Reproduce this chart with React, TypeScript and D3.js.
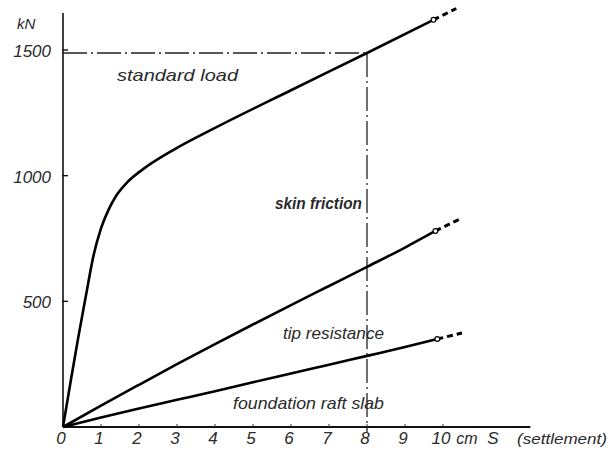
import React from "react";
import { scaleLinear, line, curveMonotoneX } from "d3";

// settlement in cm, load in kN
const standardS = [0, 0.2, 0.4, 0.6, 0.8, 1.0, 1.2, 1.4, 1.7, 2.1, 2.9, 4, 6, 8, 9.75];
const standardKN = [0, 180, 355, 520, 680, 790, 865, 920, 975, 1025, 1102, 1190, 1340, 1488, 1620];
const standardExtS = [9.75, 10.35];
const standardExtKN = [1620, 1665];

const middleS = [0, 1, 2, 3, 4, 5, 6, 7, 8, 9, 9.8];
const middleKN = [0, 85, 168, 250, 330, 408, 485, 561, 637, 714, 780];
const middleExtS = [9.8, 10.45];
const middleExtKN = [780, 828];

const lowerS = [0, 1, 2, 3, 4, 5, 6, 7, 8, 9, 9.85];
const lowerKN = [0, 38, 74, 108, 142, 178, 213, 248, 283, 318, 350];
const lowerExtS = [9.85, 10.5];
const lowerExtKN = [350, 374];

const xTicks = [0, 1, 2, 3, 4, 5, 6, 7, 8, 9, 10];
const yTicks = [500, 1000, 1500];
const standardLoad = 1488;
const standardSettlement = 8;

const font = "'Liberation Sans', Arial, sans-serif";

const App = () => {
  const x = scaleLinear().domain([0, 10]).range([63, 443]);
  const y = scaleLinear().domain([0, 1500]).range([427, 50]);

  const mk = (s: number[], v: number[]) =>
    line<number>()
      .x((d, i) => x(s[i]))
      .y((d) => y(d))
      .curve(curveMonotoneX)(v) || "";

  const curves = [
    { s: standardS, v: standardKN, es: standardExtS, ev: standardExtKN },
    { s: middleS, v: middleKN, es: middleExtS, ev: middleExtKN },
    { s: lowerS, v: lowerKN, es: lowerExtS, ev: lowerExtKN },
  ];

  const txt = { fontFamily: font, fontStyle: "italic", fill: "#2a2a2a" } as const;

  return (
    <svg width={608} height={455} style={{ position: "absolute", left: 0, top: 0, background: "#fff" }}>
      {/* axes */}
      <line x1={x(0)} y1={13} x2={x(0)} y2={y(0)} stroke="#111" strokeWidth={1.6} />
      <line x1={x(0)} y1={y(0)} x2={x(12.3)} y2={y(0)} stroke="#111" strokeWidth={1.8} />
      {yTicks.map((t) => (
        <line key={t} x1={x(0) - 1} x2={x(0) + 5} y1={y(t)} y2={y(t)} stroke="#111" strokeWidth={1.4} />
      ))}
      {xTicks.slice(1).map((t) => (
        <line key={t} x1={x(t)} x2={x(t)} y1={y(0)} y2={y(0) - 3} stroke="#333" strokeWidth={1} />
      ))}

      {/* standard load reference lines */}
      <line x1={x(0)} y1={y(standardLoad)} x2={x(standardSettlement)} y2={y(standardLoad)}
        stroke="#222" strokeWidth={1.3} strokeDasharray="24,4,2,4" />
      <line x1={x(standardSettlement)} y1={y(standardLoad)} x2={x(standardSettlement)} y2={y(0) + 5}
        stroke="#222" strokeWidth={1.3} strokeDasharray="24,4,2,4" />

      {/* curves */}
      {curves.map((c, i) => (
        <g key={i}>
          <path d={mk(c.s, c.v)} fill="none" stroke="#000" strokeWidth={2.6} />
          <path d={mk(c.es, c.ev)} fill="none" stroke="#000" strokeWidth={3} strokeDasharray="6,4" />
          <circle cx={x(c.es[0])} cy={y(c.ev[0])} r={2.4} fill="#fff" stroke="#000" strokeWidth={1.2} />
        </g>
      ))}

      {/* y labels */}
      <text x={17} y={29} fontSize={15} {...txt}>kN</text>
      {yTicks.map((t) => (
        <text key={t} x={51} y={y(t) + 7} fontSize={17} textAnchor="end" {...txt}>{t}</text>
      ))}

      {/* x labels */}
      {xTicks.map((t) => (
        <text key={t} x={x(t) - 2} y={444} fontSize={17} textAnchor="middle" {...txt}>{t}</text>
      ))}
      <text x={467} y={444} fontSize={16} textAnchor="middle" {...txt}>cm</text>
      <text x={493} y={444} fontSize={17} textAnchor="middle" {...txt}>S</text>
      <text x={517} y={444} fontSize={15} textLength={90} lengthAdjust="spacingAndGlyphs" {...txt}>(settlement)</text>

      {/* curve labels */}
      <text x={117} y={81} fontSize={17} textLength={121} lengthAdjust="spacingAndGlyphs" {...txt}>standard load</text>
      <text x={275} y={209} fontSize={17} fontWeight={600} textLength={87} lengthAdjust="spacingAndGlyphs" {...txt}>skin friction</text>
      <text x={283} y={339} fontSize={17} textLength={101} lengthAdjust="spacingAndGlyphs" {...txt}>tip resistance</text>
      <text x={233} y={409} fontSize={17} textLength={151} lengthAdjust="spacingAndGlyphs" {...txt}>foundation raft slab</text>
    </svg>
  );
};

export default App;
